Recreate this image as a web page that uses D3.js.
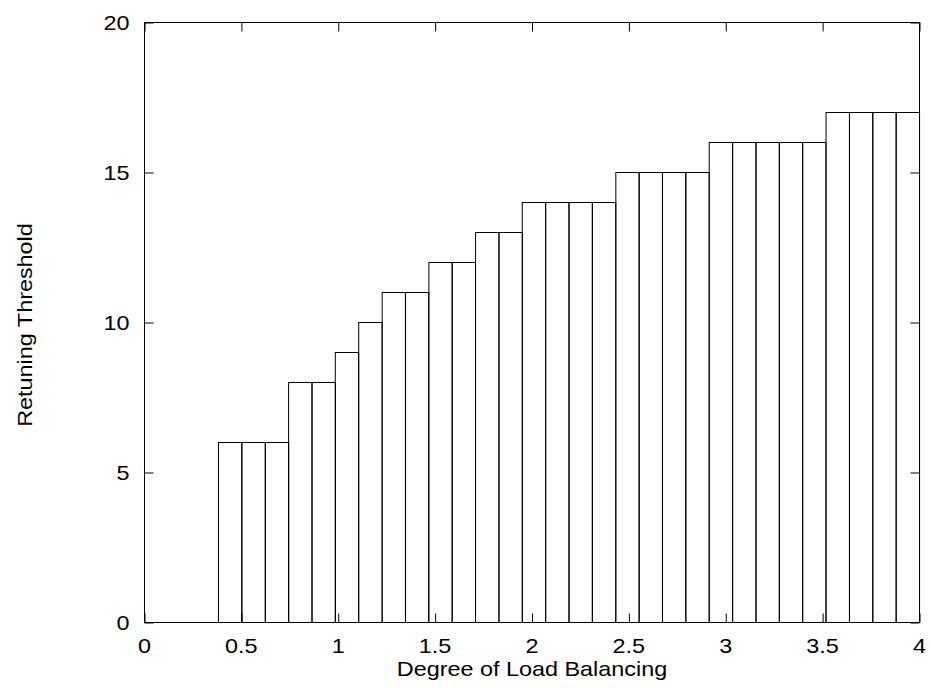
<!DOCTYPE html>
<html>
<head>
<meta charset="utf-8">
<script src="https://cdn.jsdelivr.net/npm/d3@7"></script>
<style>
  html, body { margin: 0; padding: 0; background: #fff; }
  svg { display: block; }
  text { font-family: "Liberation Sans", Arial, Helvetica, sans-serif; fill: #000; }
</style>
</head>
<body>
<svg id="chart" width="930" height="688"></svg>
<script>
// Data
const xCenters = [0.442, 0.563, 0.684, 0.804, 0.925, 1.045, 1.166, 1.287, 1.407, 1.528,
                  1.648, 1.769, 1.890, 2.010, 2.131, 2.251, 2.372, 2.493, 2.613, 2.734,
                  2.854, 2.975, 3.096, 3.216, 3.337, 3.457, 3.578, 3.699, 3.819, 3.940];
const thresholds = [6, 6, 6, 8, 8, 9, 10, 11, 11, 12,
                    12, 13, 13, 14, 14, 14, 14, 15, 15, 15,
                    15, 16, 16, 16, 16, 16, 17, 17, 17, 17];
const boxWidth = 0.1206;
const xTicks = [0, 0.5, 1, 1.5, 2, 2.5, 3, 3.5, 4];
const yTicks = [0, 5, 10, 15, 20];
const xLabel = "Degree of Load Balancing";
const yLabel = "Retuning Threshold";

const svg = d3.select("#chart");
const pLeft = 144.5, pRight = 919.5, pTop = 22.5, pBottom = 622.5;
const x = d3.scaleLinear().domain([0, 4]).range([pLeft, pRight]);
const y = d3.scaleLinear().domain([0, 20]).range([pBottom, pTop]);
const fmt = d => String(d);
const FS = 20, SX = 1.17; // font size and horizontal stretch of the reference lettering

// Boxes
svg.append("g").selectAll("rect")
  .data(xCenters.map((c, i) => ({c, v: thresholds[i]})))
  .join("rect")
  .attr("x", d => x(d.c - boxWidth / 2))
  .attr("width", d => x(d.c + boxWidth / 2) - x(d.c - boxWidth / 2))
  .attr("y", d => y(d.v))
  .attr("height", d => y(0) - y(d.v))
  .attr("fill", "none")
  .attr("stroke", "#000")
  .attr("stroke-width", 1);

// Tick marks (gnuplot-like inward ticks on all sides)
const tickLen = 9;
const axB = svg.append("g").attr("transform", `translate(0,${pBottom})`)
  .call(d3.axisBottom(x).tickValues(xTicks).tickFormat("").tickSizeInner(-tickLen).tickSizeOuter(0));
const axT = svg.append("g").attr("transform", `translate(0,${pTop})`)
  .call(d3.axisTop(x).tickValues(xTicks).tickFormat("").tickSizeInner(-tickLen).tickSizeOuter(0));
const axL = svg.append("g").attr("transform", `translate(${pLeft},0)`)
  .call(d3.axisLeft(y).tickValues(yTicks).tickFormat("").tickSizeInner(-tickLen).tickSizeOuter(0));
const axR = svg.append("g").attr("transform", `translate(${pRight},0)`)
  .call(d3.axisRight(y).tickValues(yTicks).tickFormat("").tickSizeInner(-tickLen).tickSizeOuter(0));
[axB, axT, axL, axR].forEach(a => {
  a.select(".domain").remove();
  a.selectAll("line").attr("stroke", "#000");
});

// Tick labels
svg.append("g").selectAll("text").data(xTicks).join("text")
  .attr("transform", d => `translate(${x(d)},653) scale(${SX},1)`)
  .attr("text-anchor", "middle").attr("font-size", FS)
  .text(fmt);
svg.append("g").selectAll("text").data(yTicks).join("text")
  .attr("transform", d => `translate(129.5,${y(d) + 7}) scale(${SX},1)`)
  .attr("text-anchor", "end").attr("font-size", FS)
  .text(fmt);

// Frame
svg.append("rect")
  .attr("x", pLeft).attr("y", pTop)
  .attr("width", pRight - pLeft).attr("height", pBottom - pTop)
  .attr("fill", "none").attr("stroke", "#000").attr("stroke-width", 1);

// Axis titles
svg.append("text")
  .attr("transform", `translate(${(pLeft + pRight) / 2},675.5) scale(${SX},1)`)
  .attr("text-anchor", "middle").attr("font-size", FS)
  .text(xLabel);
svg.append("text")
  .attr("transform", `translate(31.5,325) rotate(-90) scale(${SX},1)`)
  .attr("text-anchor", "middle").attr("font-size", FS)
  .text(yLabel);
</script>
</body>
</html>
